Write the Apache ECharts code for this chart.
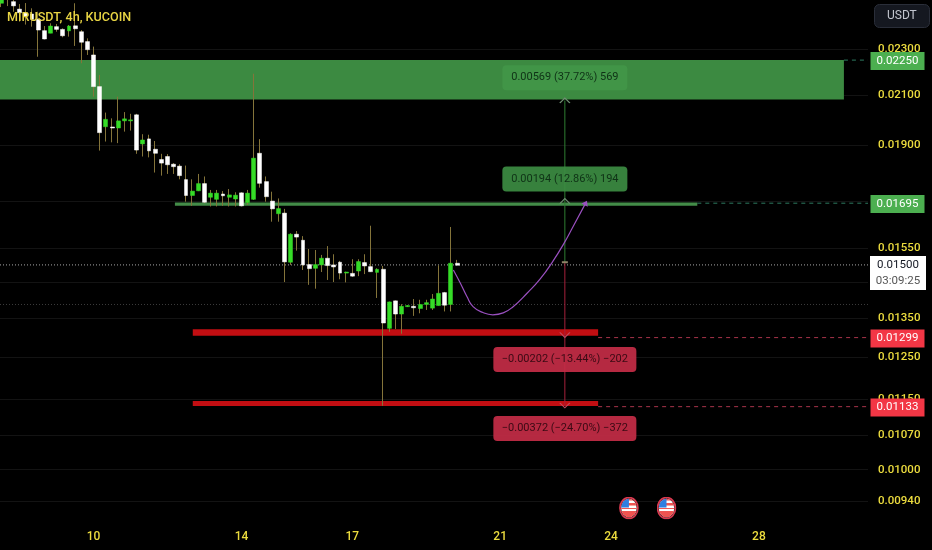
<!DOCTYPE html>
<html>
<head>
<meta charset="utf-8">
<style>html,body{margin:0;padding:0;background:#000}#c{width:932px;height:550px}</style>
<script src="https://cdn.jsdelivr.net/npm/echarts@6/dist/echarts.min.js"></script>
</head>
<body>
<div id="c"></div>
<script>
var opens = [.02518,.0256,.02526,.02489,.0247,.02465,.02439,.02385,.02373,.02404,.02391,.02384,.02408,.0238,.02334,.02273,.02135,.01972,.01971,.01967,.01995,.01995,.02019,.01906,.01925,.01886,.01848,.01859,.01831,.01824,.01776,.01721,.01737,.01762,.01715,.01708,.01726,.01715,.01709,.0173,.01697,.01708,.01871,.01769,.01702,.0166,.01662,.01508,.01594,.01575,.01501,.0149,.015,.0152,.015,.01508,.01476,.01475,.01482,.01507,.01495,.01478,.01487,.01323,.01397,.01361,.01381,.01382,.01376,.01387,.01377,.01384,.0142,.01387,.01505];
var closes = [.02539,.0258,.02505,.02471,.02455,.02439,.02388,.02346,.02407,.02391,.02361,.02407,.02394,.02331,.02297,.02135,.01949,.02001,.01967,.01995,.02003,.01999,.01883,.01921,.0188,.01871,.01835,.01829,.01822,.0179,.01721,.01736,.01762,.01698,.01729,.01729,.0172,.01723,.01722,.01686,.01729,.01853,.01763,.01717,.01676,.01677,.01509,.01594,.01585,.015,.01489,.01501,.0152,.01498,.01494,.01476,.01479,.01467,.0151,.01497,.0148,.01487,.01337,.01394,.01361,.01382,.01384,.01378,.01387,.01392,.01402,.01418,.01385,.01505,.01499];
var lows = [.02499,.02504,.02476,.02428,.02414,.02404,.02265,.02344,.02373,.0238,.02354,.02357,.02314,.02236,.02273,.02093,.01881,.01915,.01912,.01909,.01953,.01957,.01869,.01859,.01856,.01801,.0179,.01796,.01796,.01777,.017,.01686,.01736,.01695,.01684,.01684,.01686,.01684,.01684,.01684,.01689,.01706,.01748,.017,.01634,.01634,.0145,.015,.01543,.01485,.01442,.01431,.01479,.01456,.0145,.01458,.01449,.01465,.01467,.01473,.01479,.01405,.01135,.01314,.01321,.01309,.0138,.01356,.01363,.01372,.01372,.01384,.01368,.01368,.01499];
var highs = [.02554,.0259,.02539,.02514,.02519,.02493,.02476,.02407,.0242,.02417,.02396,.02412,.02518,.02388,.02349,.02311,.02185,.02028,.02005,.02093,.0203,.02023,.02023,.01943,.01941,.01917,.01869,.01868,.01835,.01831,.01826,.01777,.01796,.01787,.0174,.0174,.01736,.01743,.01732,.01732,.0174,.0219,.01924,.01787,.01734,.01711,.01676,.01597,.01604,.01588,.01548,.01545,.0153,.01557,.01532,.01512,.0148,.01517,.01517,.01532,.01621,.0149,.01497,.01395,.01398,.01388,.01385,.01402,.014,.014,.01416,.01499,.01422,.01617,.01515];

var xTickPositions = [15,39,57,81,99,123];
var xTickLabels = ['10','14','17','21','24','28'];
var yGridTicks = [.023,.021,.019,.017,.0155,.0145,.0135,.0125,.0115,.0107,.01,.0094];
var yTickLabels = [.023,.021,.019,.0155,.0135,.0125,.0115,.0107,.01,.0094];

var zoneTop = .0225, zoneBottom = .02081, zoneEndX = 136.8;
var curveX = [73.4,74.5,75.6,76.6,78.2,79.8,81.5,83.1,85.4,87.5,89.6,91.4,92.8,94.9];
var curveP = [.01485,.01448,.01409,.01381,.01365,.01359,.01364,.01381,.01419,.01459,.01512,.01567,.01617,.01696];

var basePrice = .01508, measureX = 91.5;
var targets = [.02077,.01702,.01306,.01136];
var flagX = [101.9,108];
var flagP = .00927;

var C = {xMin:-0.195, xMax:140.71, yMin:.009179, yMax:.025343};

var wickColor = '#84743a', bodyUp = '#35dc27', bodyDown = '#ffffff', font = 'Roboto', tickColor = '#ecdc3e';

function seg(x0,x1,p0,p1,color,width,type,z,extra){
  var s = {type:'line',data:[[x0,p0],[x1,p1]],symbol:'none',silent:true,z:z,animation:false,
    lineStyle:{color:color,width:width,type:type||'solid'}};
  for (var k in (extra||{})) s[k]=extra[k];
  return s;
}
function badge(text,bg,fg){
  return {endLabel:{show:true,formatter:text,color:fg||'#fff',backgroundColor:bg,fontFamily:font,fontSize:11.5,
    width:54,height:18,lineHeight:18,align:'center',distance:2,offset:[27.5,0.8]}};
}
function box(x,p,text,bg,fg,w){
  return {type:'scatter',data:[[x,p]],symbolSize:0,silent:true,z:9,animation:false,
    itemStyle:{opacity:1},
    label:{show:true,position:'inside',formatter:text,color:fg,backgroundColor:bg,fontFamily:font,fontSize:11,
      width:w,height:25,lineHeight:25,align:'center',verticalAlign:'middle',borderRadius:4}};
}
function mark(x,p,sym,size,color,filled,rot){
  return {type:'scatter',data:[[x,p]],symbol:sym,symbolSize:size,symbolRotate:rot||0,silent:true,z:8,animation:false,
    itemStyle:filled?{color:color,opacity:1}:{color:'none',borderColor:color,borderWidth:1,opacity:1}};
}
var flagSvg = '<svg xmlns="http://www.w3.org/2000/svg" width="40" height="46" viewBox="0 0 40 46">'+
 '<defs><clipPath id="a"><ellipse cx="20" cy="23" rx="15.5" ry="18.5"/></clipPath></defs>'+
 '<ellipse cx="20" cy="23" rx="18" ry="21" fill="#111" stroke="#d8394f" stroke-width="3.4"/>'+
 '<g clip-path="url(#a)"><rect width="40" height="46" fill="#fff"/>'+
 '<rect y="3" width="40" height="5" fill="#ef5350"/><rect y="13" width="40" height="5" fill="#ef5350"/>'+
 '<rect y="29" width="40" height="17" fill="#ef5350"/><rect y="23" width="40" height="2" fill="#ef5350"/>'+
 '<rect width="20" height="22" fill="#2f7fe0"/></g></svg>';
var flagSym = 'image://data:image/svg+xml;utf8,'+encodeURIComponent(flagSvg);

var wickData = opens.map(function(o,i){return [i,o,closes[i],lows[i],highs[i]];});
var bodyData = opens.map(function(o,i){return [i,o,closes[i],Math.min(o,closes[i]),Math.max(o,closes[i])];});

var series = [
  {type:'custom',data:[[C.xMin,zoneTop,zoneEndX,zoneBottom]],silent:true,z:1,animation:false,clip:true,
   encode:{x:[0,2],y:[1,3]},
   renderItem:function(params,api){
     var a=api.coord([api.value(0),api.value(1)]),b=api.coord([api.value(2),api.value(3)]);
     return {type:'rect',shape:{x:a[0],y:a[1],width:b[0]-a[0],height:b[1]-a[1]},style:{fill:'#3c8a41'}};
   }},
  seg(C.xMin,C.xMax,.015,.015,'#a8a8a8',1,[1,2],2),
  seg(C.xMin,C.xMax,.01387,.01387,'#3c3c3c',1,[1,2],2),
  seg(28.2,113,.01692,.01692,'#438c48',3.2,'solid',3),
  seg(31.1,96.9,.01312,.01312,'#c20e12',6.4,'solid',3),
  seg(31.1,96.9,.0114,.0114,'#c20e12',5,'solid',3),
  seg(136.8,C.xMax,.0225,.0225,'#2d7a60',1,[4,4],3,badge('0.02250','#4caf50')),
  seg(113,C.xMax,.01695,.01695,'#2d7a60',1,[4,4],3,badge('0.01695','#4caf50')),
  seg(96.9,C.xMax,.01299,.01299,'#a8344a',1,[4,4],3,badge('0.01299','#f23645')),
  seg(96.9,C.xMax,.01133,.01133,'#a8344a',1,[4,4],3,badge('0.01133','#f23645')),
  {type:'candlestick',data:wickData,barWidth:1,z:5,silent:true,animation:false,
   encode:{x:0,y:[1,2,3,4]},
   itemStyle:{color:wickColor,color0:wickColor,borderColor:wickColor,borderColor0:wickColor,borderWidth:1}},
  {type:'candlestick',data:bodyData,barWidth:4.4,z:6,silent:true,animation:false,
   encode:{x:0,y:[1,2,3,4]},
   itemStyle:{color:bodyUp,color0:bodyDown,borderColor:bodyUp,borderColor0:bodyDown,borderWidth:0.5}},
  seg(measureX,measureX,basePrice,targets[0],'#2e7d32',1,'solid',7),
  seg(measureX,measureX,basePrice,targets[3],'#a5203a',1,'solid',7),
  mark(measureX,targets[0],'path://M0 6 L5 0 L10 6',[10,5],'#6f8f72'),
  mark(measureX,targets[1],'path://M0 6 L5 0 L10 6',[10,5],'#6f8f72'),
  mark(measureX,targets[2],'path://M0 0 L5 6 L10 0',[10,5],'#c04a60'),
  mark(measureX,targets[3],'path://M0 0 L5 6 L10 0',[10,5],'#c04a60'),
  mark(measureX,basePrice,'rect',[6,2],'#8f8468',true),
  {type:'line',data:curveX.map(function(x,i){return [x,curveP[i]];}),smooth:0.5,symbol:'none',silent:true,z:8,animation:false,
   lineStyle:{color:'#9a50c0',width:1.2}},
  mark(curveX[13],curveP[13],'triangle',[7,5],'#9a50c0',true,-28),
  box(measureX,.02173,'0.00569 (37.72%) 569','rgba(66,150,72,0.92)','#0f3216',125),
  box(measureX,.01778,'0.00194 (12.86%) 194','rgba(60,140,66,0.92)','#0f3216',125),
  box(measureX,.01244,'\u22120.00202 (\u221213.44%) \u2212202','rgba(196,44,70,0.92)','#3a0a14',143),
  box(measureX,.01085,'\u22120.00372 (\u221224.70%) \u2212372','rgba(196,44,70,0.92)','#3a0a14',143),
  {type:'scatter',data:flagX.map(function(x){return [x,flagP];}),symbol:flagSym,symbolSize:[20,23],silent:true,z:8,animation:false,itemStyle:{opacity:1}}
];
// 0.01500 price badge with countdown
series[1].endLabel = {show:true,distance:2,offset:[0,8],backgroundColor:'#fff',padding:[1,0,1,0],
  formatter:'{a|0.01500}\n{b|03:09:25}',
  rich:{a:{color:'#131722',fontFamily:font,fontSize:11.5,lineHeight:16,width:56,align:'center'},
        b:{color:'#555',fontFamily:font,fontSize:11.5,lineHeight:16,width:56,align:'center'}}};

var option = {
  backgroundColor:'#000',
  animation:false,
  title:[
    {text:'MIRUSDT, 4h, KUCOIN',left:7,top:11,padding:0,z:20,textStyle:{color:'#e8d544',fontFamily:font,fontSize:12.6,fontWeight:500}},
    {text:'USDT',left:874,top:4,padding:[6,13],backgroundColor:'#151820',borderColor:'#2a2e39',borderWidth:1,borderRadius:5,
     textStyle:{color:'#c3c6cf',fontFamily:font,fontSize:12,fontWeight:'normal'}}
  ],
  grid:{left:0,top:0,width:868,height:513,containLabel:false},
  xAxis:{type:'value',min:C.xMin,max:C.xMax,splitLine:{show:false},axisLine:{show:false},axisTick:{show:false},
    axisLabel:{show:true,customValues:xTickPositions,color:tickColor,fontFamily:font,fontSize:12,fontWeight:500,margin:18,
      formatter:function(v){var i=xTickPositions.indexOf(v);return i>=0?xTickLabels[i]:'';}}},
  yAxis:{type:'log',logBase:10,position:'right',min:C.yMin,max:C.yMax,scale:true,
    axisLine:{show:false},
    axisTick:{show:false,customValues:yGridTicks},
    splitLine:{show:true,lineStyle:{color:'#131313',width:1}},
    axisLabel:{show:true,customValues:yTickLabels,color:tickColor,fontFamily:font,fontSize:11.5,fontWeight:500,margin:10,padding:[3,0,0,0],
      formatter:function(v){return v.toFixed(5);}}},
  series:series
};
echarts.init(document.getElementById('c')).setOption(option);
</script>
</body>
</html>
